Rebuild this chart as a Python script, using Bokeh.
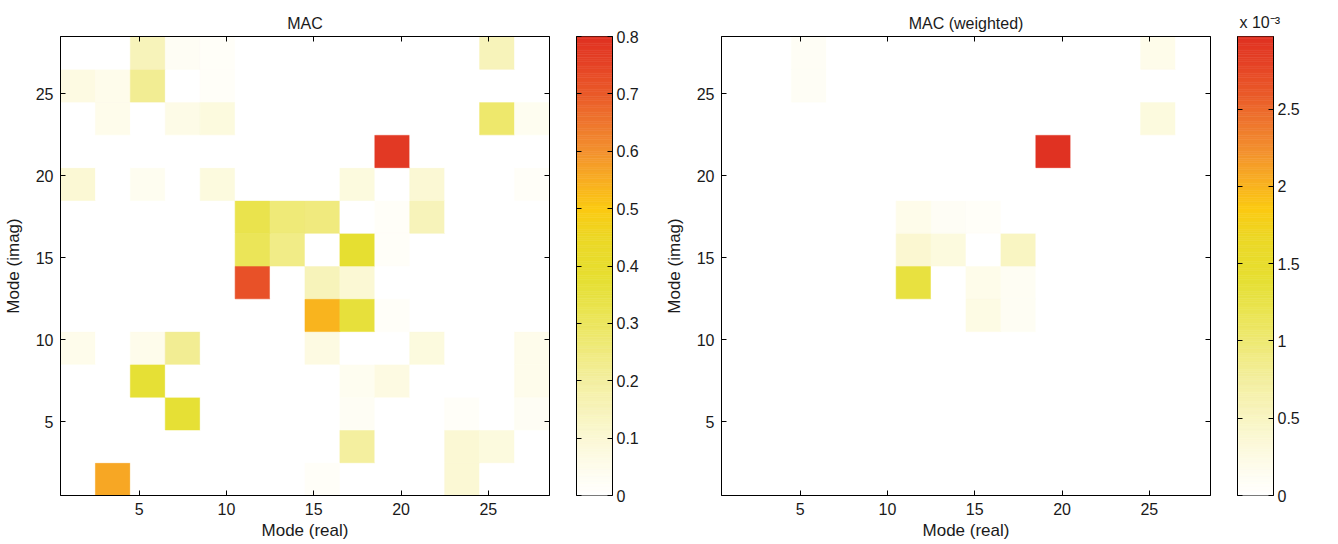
import numpy as np
from bokeh.plotting import figure
from bokeh.models import (LinearColorMapper, ColumnDataSource, FixedTicker,
                          LinearAxis, Range1d)
from bokeh.layouts import row
from bokeh.embed import file_html
from bokeh.resources import INLINE
from bokeh.transform import transform

# Mode numbers at the centre of each 2-mode cell (real part on x, imaginary part on y)
mode_real = [1.5, 3.5, 5.5, 7.5, 9.5, 11.5, 13.5, 15.5, 17.5, 19.5, 21.5, 23.5, 25.5, 27.5]
mode_imag = [1.5, 3.5, 5.5, 7.5, 9.5, 11.5, 13.5, 15.5, 17.5, 19.5, 21.5, 23.5, 25.5, 27.5]
axis_ticks = [5, 10, 15, 20, 25]

# MAC matrix, rows listed from the top (imag = 27.5) down to the bottom (imag = 1.5)
mac_rows = [
    [0.00, 0.00, 0.15, 0.03, 0.02, 0.00, 0.00, 0.00, 0.00, 0.00, 0.00, 0.00, 0.15, 0.00],
    [0.07, 0.05, 0.22, 0.00, 0.02, 0.00, 0.00, 0.00, 0.00, 0.00, 0.00, 0.00, 0.00, 0.00],
    [0.00, 0.05, 0.00, 0.06, 0.08, 0.00, 0.00, 0.00, 0.00, 0.00, 0.00, 0.00, 0.28, 0.04],
    [0.00, 0.00, 0.00, 0.00, 0.00, 0.00, 0.00, 0.00, 0.00, 0.78, 0.00, 0.00, 0.00, 0.00],
    [0.10, 0.00, 0.04, 0.00, 0.08, 0.00, 0.00, 0.00, 0.08, 0.00, 0.10, 0.00, 0.00, 0.02],
    [0.00, 0.00, 0.00, 0.00, 0.00, 0.33, 0.26, 0.25, 0.00, 0.02, 0.15, 0.00, 0.00, 0.00],
    [0.00, 0.00, 0.00, 0.00, 0.00, 0.31, 0.24, 0.00, 0.38, 0.02, 0.00, 0.00, 0.00, 0.00],
    [0.00, 0.00, 0.00, 0.00, 0.00, 0.72, 0.00, 0.15, 0.10, 0.00, 0.00, 0.00, 0.00, 0.00],
    [0.00, 0.00, 0.00, 0.00, 0.00, 0.00, 0.00, 0.54, 0.36, 0.02, 0.00, 0.00, 0.00, 0.00],
    [0.05, 0.00, 0.05, 0.22, 0.00, 0.00, 0.00, 0.07, 0.00, 0.00, 0.08, 0.00, 0.00, 0.05],
    [0.00, 0.00, 0.37, 0.00, 0.00, 0.00, 0.00, 0.00, 0.04, 0.07, 0.00, 0.00, 0.00, 0.05],
    [0.00, 0.00, 0.00, 0.37, 0.00, 0.00, 0.00, 0.00, 0.03, 0.00, 0.00, 0.02, 0.00, 0.03],
    [0.00, 0.00, 0.00, 0.00, 0.00, 0.00, 0.00, 0.00, 0.20, 0.00, 0.00, 0.10, 0.08, 0.00],
    [0.00, 0.56, 0.00, 0.00, 0.00, 0.00, 0.00, 0.02, 0.00, 0.00, 0.00, 0.10, 0.00, 0.00],
]

# Weighted MAC matrix in units of 1e-3, same row order
mac_weighted_rows = [
    [0.00, 0.00, 0.10, 0.00, 0.00, 0.00, 0.00, 0.00, 0.00, 0.00, 0.00, 0.00, 0.20, 0.00],
    [0.00, 0.00, 0.10, 0.00, 0.00, 0.00, 0.00, 0.00, 0.00, 0.00, 0.00, 0.00, 0.00, 0.00],
    [0.00, 0.00, 0.00, 0.00, 0.00, 0.00, 0.00, 0.00, 0.00, 0.00, 0.00, 0.00, 0.30, 0.00],
    [0.00, 0.00, 0.00, 0.00, 0.00, 0.00, 0.00, 0.00, 0.00, 2.97, 0.00, 0.00, 0.00, 0.00],
    [0.00, 0.00, 0.00, 0.00, 0.00, 0.00, 0.00, 0.00, 0.00, 0.00, 0.00, 0.00, 0.00, 0.00],
    [0.00, 0.00, 0.00, 0.00, 0.00, 0.20, 0.10, 0.08, 0.00, 0.00, 0.00, 0.00, 0.00, 0.00],
    [0.00, 0.00, 0.00, 0.00, 0.00, 0.40, 0.30, 0.00, 0.50, 0.00, 0.00, 0.00, 0.00, 0.00],
    [0.00, 0.00, 0.00, 0.00, 0.00, 1.30, 0.00, 0.20, 0.12, 0.00, 0.00, 0.00, 0.00, 0.00],
    [0.00, 0.00, 0.00, 0.00, 0.00, 0.00, 0.00, 0.25, 0.12, 0.00, 0.00, 0.00, 0.00, 0.00],
    [0.00, 0.00, 0.00, 0.00, 0.00, 0.00, 0.00, 0.00, 0.00, 0.00, 0.00, 0.00, 0.00, 0.00],
    [0.00, 0.00, 0.00, 0.00, 0.00, 0.00, 0.00, 0.00, 0.00, 0.00, 0.00, 0.00, 0.00, 0.00],
    [0.00, 0.00, 0.00, 0.00, 0.00, 0.00, 0.00, 0.00, 0.00, 0.00, 0.00, 0.00, 0.00, 0.00],
    [0.00, 0.00, 0.00, 0.00, 0.00, 0.00, 0.00, 0.00, 0.00, 0.00, 0.00, 0.00, 0.00, 0.00],
    [0.00, 0.00, 0.00, 0.00, 0.00, 0.00, 0.00, 0.00, 0.00, 0.00, 0.00, 0.00, 0.00, 0.00],
]

mac_limits = (0.0, 0.8)
mac_ticks = [0, 0.1, 0.2, 0.3, 0.4, 0.5, 0.6, 0.7, 0.8]
weighted_limits = (0.0, 2.97)
weighted_ticks = [0, 0.5, 1, 1.5, 2, 2.5]
weighted_exponent = "x 10\u207b\u00b3"

FONT = "Liberation Sans"
TEXT = "#1a1a1a"

# white -> yellow -> orange -> red colour scale (positions as fractions of the range)
stops = [
    (0.000, "#ffffff"), (0.060, "#fefcec"), (0.125, "#fbf8d4"), (0.250, "#f4efa0"),
    (0.375, "#ece65e"), (0.470, "#e6df32"), (0.560, "#ecd826"), (0.625, "#fbca12"),
    (0.690, "#f8ad22"), (0.750, "#f3912e"), (0.815, "#ee752e"), (0.875, "#ea5b29"),
    (0.940, "#e54426"), (1.000, "#e03222"),
]


def hex_rgb(h):
    return [int(h[i:i + 2], 16) for i in (1, 3, 5)]


def build_palette(n=256):
    pos = np.array([s[0] for s in stops])
    rgb = np.array([hex_rgb(s[1]) for s in stops], dtype=float)
    t = np.linspace(0, 1, n)
    out = []
    for v in t:
        c = [np.interp(v, pos, rgb[:, k]) for k in range(3)]
        out.append("#%02x%02x%02x" % tuple(int(round(x)) for x in c))
    return out


palette = build_palette()


def style_axis(ax, ticks, labels=True):
    ax.ticker = FixedTicker(ticks=ticks)
    ax.major_tick_in = 5
    ax.major_tick_out = 0
    ax.minor_tick_line_color = None
    ax.axis_line_color = "black"
    ax.axis_line_width = 1
    ax.major_tick_line_color = "black"
    ax.major_label_text_font = FONT
    ax.major_label_text_color = TEXT
    ax.axis_label_text_font = FONT
    ax.axis_label_text_color = TEXT
    ax.axis_label_text_font_style = "normal"
    ax.axis_label_text_font_size = "17px"
    if labels:
        ax.major_label_text_font_size = "16px"
    else:
        # tick marks only: the opposite side of the box carries no numbers
        ax.major_label_overrides = {t: "" for t in ticks}
        ax.major_label_text_font_size = "0px"
        ax.major_label_standoff = 0


def heatmap(rows, limits, title, border_right):
    mapper = LinearColorMapper(palette=palette, low=limits[0], high=limits[1])
    xs, ys, vs = [], [], []
    for r, vals in enumerate(reversed(rows)):
        for c, v in enumerate(vals):
            xs.append(mode_real[c])
            ys.append(mode_imag[r])
            vs.append(v)
    src = ColumnDataSource(dict(x=xs, y=ys, v=vs))

    p = figure(frame_width=489, frame_height=459,
               x_range=Range1d(0.5, 28.5), y_range=Range1d(0.5, 28.5),
               min_border_left=60, min_border_right=border_right,
               min_border_top=36, min_border_bottom=49,
               toolbar_location=None, output_backend="svg",
               background_fill_color="white", border_fill_color="white")
    p.grid.visible = False
    p.outline_line_color = "black"

    p.rect(x="x", y="y", width=2, height=2, source=src,
           fill_color=transform("v", mapper), line_color=transform("v", mapper),
           line_width=0.6)

    p.xaxis.axis_label = "Mode (real)"
    p.yaxis.axis_label = "Mode (imag)"
    for ax in p.xaxis:
        style_axis(ax, axis_ticks)
        ax.major_label_standoff = 7
        ax.axis_label_standoff = 3
    for ax in p.yaxis:
        style_axis(ax, axis_ticks)
        ax.major_label_standoff = 7
        ax.axis_label_standoff = 10

    top = LinearAxis()
    style_axis(top, axis_ticks, labels=False)
    p.add_layout(top, "above")
    right = LinearAxis()
    style_axis(right, axis_ticks, labels=False)
    p.add_layout(right, "right")

    p.title.text = title
    p.title.align = "center"
    p.title.text_font = FONT
    p.title.text_font_size = "16px"
    p.title.text_font_style = "normal"
    p.title.text_color = TEXT
    return p, mapper


def colour_bar(mapper, limits, ticks, border_right, heading=None):
    lo, hi = limits
    edges = np.linspace(lo, hi, 201)
    src = ColumnDataSource(dict(bottom=edges[:-1], top=edges[1:],
                                mid=0.5 * (edges[:-1] + edges[1:])))
    p = figure(frame_width=36, frame_height=459,
               x_range=Range1d(0, 1), y_range=Range1d(lo, hi),
               x_axis_location=None, y_axis_location="right",
               min_border_left=15, min_border_right=border_right,
               min_border_top=36, min_border_bottom=49,
               toolbar_location=None, output_backend="svg",
               background_fill_color="white", border_fill_color="white")
    p.grid.visible = False
    p.outline_line_color = "black"
    p.quad(left=0, right=1, bottom="bottom", top="top", source=src,
           fill_color=transform("mid", mapper), line_color=transform("mid", mapper),
           line_width=0.6)
    for ax in p.yaxis:
        style_axis(ax, ticks)
        ax.major_label_overrides = {t: ("%g" % t) for t in ticks}
        ax.major_label_standoff = 4
    left = LinearAxis()
    style_axis(left, ticks, labels=False)
    p.add_layout(left, "left")
    if heading:
        p.title.text = heading
        p.title.align = "left"
        p.title.offset = 2
        p.title.standoff = 12
        p.title.text_font = FONT
        p.title.text_font_size = "16px"
        p.title.text_font_style = "normal"
        p.title.text_color = TEXT
    return p


p1, m1 = heatmap(mac_rows, mac_limits, "MAC", 12)
c1 = colour_bar(m1, mac_limits, mac_ticks, 49)
p2, m2 = heatmap(mac_weighted_rows, weighted_limits, "MAC (weighted)", 12)
c2 = colour_bar(m2, weighted_limits, weighted_ticks, 65, heading=weighted_exponent)

layout = row(p1, c1, p2, c2)
open("out.html", "w").write(file_html(layout, INLINE))
